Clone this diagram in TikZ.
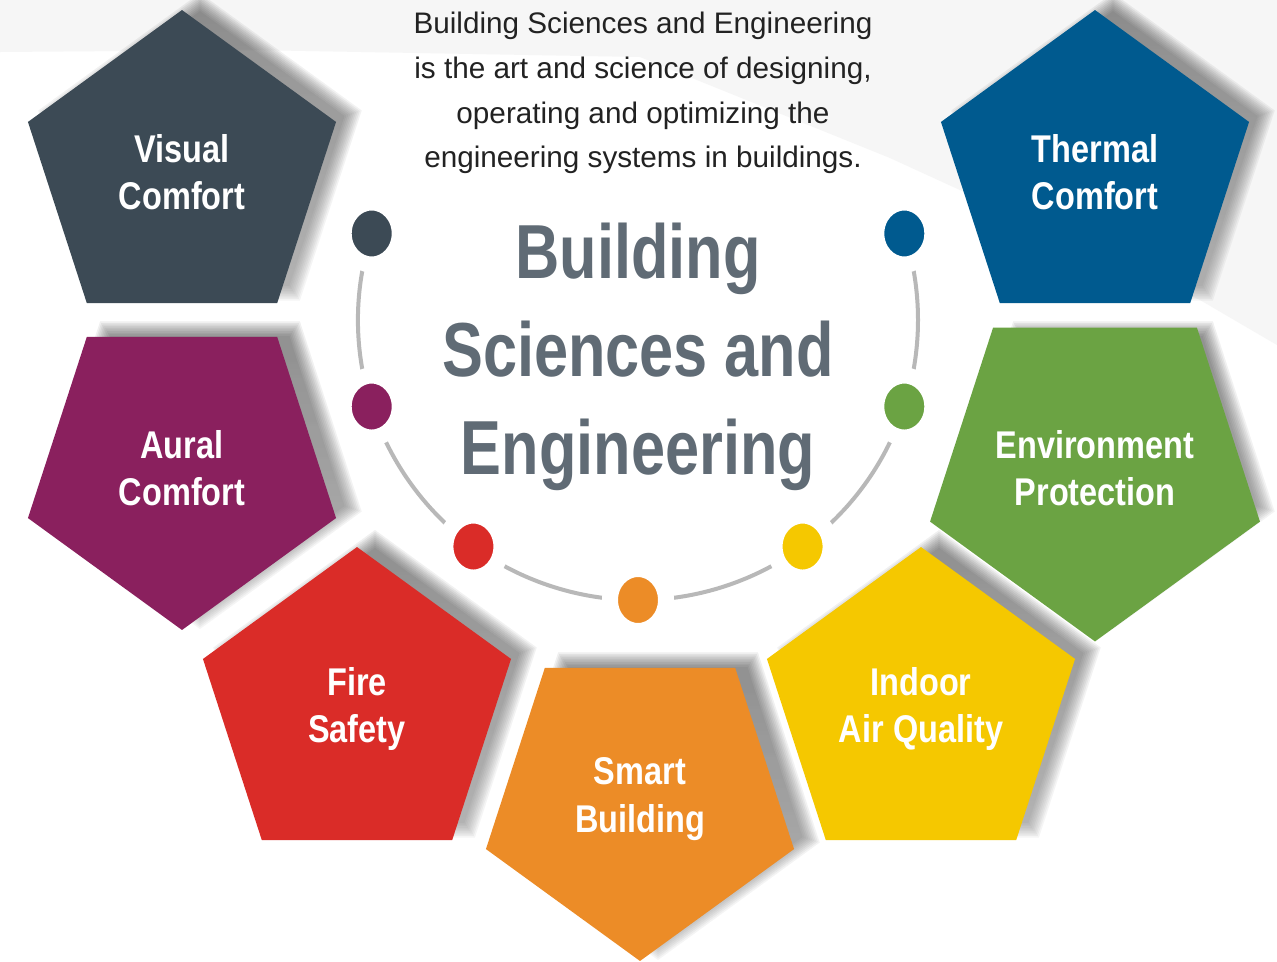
\documentclass[tikz,border=0pt]{standalone}
\usepackage{fontspec}
\setmainfont{Liberation Sans}
\newfontfamily\labelfont[FakeStretch=0.84]{Liberation Sans}
\newfontfamily\titlefont[FakeStretch=0.80]{Liberation Sans}
\usepackage{xcolor}
\usepackage{tikz}
\usetikzlibrary{calc,shapes.geometric}
\definecolor{visual}{HTML}{3C4A55}
\definecolor{thermal}{HTML}{005A8F}
\definecolor{aural}{HTML}{8A205E}
\definecolor{environ}{HTML}{6BA343}
\definecolor{fire}{HTML}{DA2C28}
\definecolor{indoor}{HTML}{F5C800}
\definecolor{smart}{HTML}{EC8C27}
\definecolor{ring}{HTML}{B8B8B8}
\definecolor{headline}{HTML}{606B75}
\definecolor{bodytxt}{HTML}{222222}
\definecolor{haze}{HTML}{F6F6F6}
\definecolor{shade}{HTML}{2A2D35}
\tikzset{
  pent/.style={regular polygon, regular polygon sides=5, minimum size=6.48cm,
    inner sep=0pt, text=white, align=center,
    font=\labelfont\bfseries\fontsize{22}{27}\selectfont},
  pentdown/.style={pent, shape border rotate=180},
  dot/.style={ellipse, draw=white, line width=0.32cm, minimum width=1.12cm,
    minimum height=1.24cm, inner sep=0pt},
  arcline/.style={draw=ring, line width=0.08cm},
  intro/.style={text=bodytxt, align=center, font=\fontsize{16.9}{25.5}\selectfont},
  heading/.style={text=headline, align=center,
    font=\titlefont\bfseries\fontsize{43.6}{55.6}\selectfont}
}
% soft shadow behind a pentagon: centre x, centre y, angle of first corner
\newcommand\pentshade[3]{%
  \foreach \k in {0,...,9}
    \fill[shade, opacity=0.04, shift={(#1+18,#2-9)}]
      ({#3}:{152+2*\k}) -- ({#3+72}:{152+2*\k}) -- ({#3+144}:{152+2*\k})
      -- ({#3+216}:{152+2*\k}) -- ({#3+288}:{152+2*\k}) -- cycle;
}

\begin{document}
\begin{tikzpicture}[x=0.02cm, y=-0.02cm]
  \useasboundingbox (0,0) rectangle (1277,961);
  \fill[white] (0,0) rectangle (1277,961);
  \fill[haze] (0,0) -- (1277,0) -- (1277,345) -- (1200,300) -- (890,158)
    -- (640,57) -- (250,50) -- (0,52) -- cycle;

  % shadows first, so every pentagon sits above them
  \pentshade{182}{172}{270}
  \pentshade{1095}{172}{270}
  \pentshade{357}{709}{270}
  \pentshade{921}{709}{270}
  \pentshade{182}{468}{90}
  \pentshade{1095}{468}{90}
  \pentshade{640}{799}{90}

  % the seven topics
  \node[pent, fill=visual] (visual) at (182,172) {Visual\\Comfort};
  \node[pent, fill=thermal] (thermal) at (1095,172) {Thermal\\Comfort};
  \node[pent, fill=fire] (fire) at (357,709) {Fire\\Safety};
  \node[pentdown, fill=smart] (smart) at (640,799) {Smart\\Building};
  \node[pent, fill=indoor] (indoor) at (921,709) {Indoor\\Air Quality};
  \node[pentdown, fill=aural] (aural) at (182,468) {Aural\\Comfort};
  \node[pentdown, fill=environ] (environ) at (1095,468) {Environment\\Protection};

  % ring with one dot per topic
  \coordinate (ctr) at (638,320);
  \def\r{280}
  \draw[arcline] ($(ctr)+(198:\r)$) arc[start angle=198, end angle=-18, radius=\r];
  \foreach \a/\c/\n in {198/visual/dv, 162/aural/da, 126/fire/df, 90/smart/ds,
                        54/indoor/di, 18/environ/de, -18/thermal/dt}
    \node[dot, fill=\c] (\n) at ($(ctr)+(\a:\r)$) {};

  \node[intro] (about) at (643,93) {Building Sciences and Engineering\\
    is the art and science of designing,\\operating and optimizing the\\
    engineering systems in buildings.};
  \node[heading] (head) at (638,357) {Building\\Sciences and\\Engineering};
\end{tikzpicture}
\end{document}
